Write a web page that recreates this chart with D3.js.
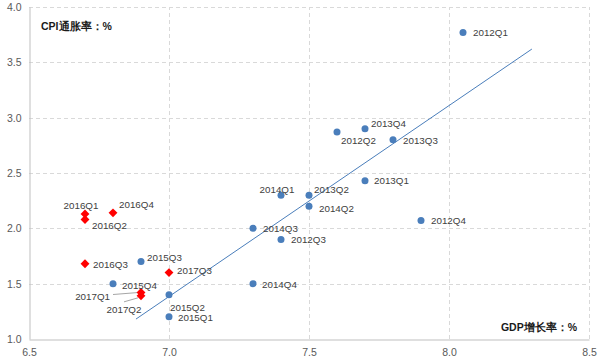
<!DOCTYPE html>
<html><head><meta charset="utf-8">
<script src="https://cdn.jsdelivr.net/npm/d3@7"></script>
<style>body{margin:0;background:#fff;}svg{display:block;font-family:"Liberation Sans",Arial,sans-serif;}</style>
</head><body><svg id="c" width="600" height="360"></svg>
<script>
// Blue series (2012Q1–2015Q4): GDP growth vs CPI inflation
const blueLabels = ["2012Q1","2012Q2","2012Q3","2012Q4","2013Q1","2013Q2","2013Q3","2013Q4","2014Q1","2014Q2","2014Q3","2014Q4","2015Q1","2015Q2","2015Q3","2015Q4"];
const blueGDP = [8.05,7.6,7.4,7.9,7.7,7.5,7.8,7.7,7.4,7.5,7.3,7.3,7.0,7.0,6.9,6.8];
const blueCPI = [3.77,2.87,1.9,2.07,2.43,2.3,2.8,2.9,2.3,2.2,2.0,1.5,1.2,1.4,1.7,1.5];
// Red series (2016Q1–2017Q3)
const redLabels = ["2016Q1","2016Q2","2016Q3","2016Q4","2017Q1","2017Q2","2017Q3"];
const redGDP = [6.7,6.7,6.7,6.8,6.9,6.9,7.0];
const redCPI = [2.13,2.08,1.68,2.14,1.42,1.39,1.6];
// Trendline endpoints
const trendGDP = [6.882,8.296];
const trendCPI = [1.18,3.62];
const xTicks = [6.5,7.0,7.5,8.0,8.5];
const yTicks = [1.0,1.5,2.0,2.5,3.0,3.5,4.0];

const labelPos = {
 "2012Q1":[10,0,"start"],"2012Q2":[4,9,"start"],"2013Q4":[6,-5,"start"],"2013Q3":[10,1,"start"],
 "2013Q1":[9,0,"start"],"2012Q4":[10,0,"start"],"2014Q1":[-4,-6,"middle"],"2013Q2":[5,-6,"start"],
 "2014Q2":[10,2,"start"],"2014Q3":[10,0,"start"],"2012Q3":[10,0,"start"],"2014Q4":[9,1,"start"],
 "2015Q3":[6,-4,"start"],"2015Q4":[9,2,"start"],"2015Q2":[1,13,"start"],"2015Q1":[9,1,"start"],
 "2016Q1":[-4,-8,"middle"],"2016Q2":[7,6,"start"],"2016Q4":[6,-8,"start"],"2016Q3":[8,1,"start"],
 "2017Q3":[8,-2,"start"],"2017Q1":[-31,4,"end"],"2017Q2":[-17,14,"middle"]
};
const leaders = {"2017Q1":[-28,2,-3,0],"2017Q2":[-17,6,-3,2]};

const svg = d3.select("#c");
const x = d3.scaleLinear().domain([6.5,8.5]).range([29,589]);
const y = d3.scaleLinear().domain([1,4]).range([339,7]);

// grid
const g = svg.append("g");
g.selectAll(".hg").data(yTicks.filter(d=>d>1)).join("line")
 .attr("x1",x(6.5)).attr("x2",x(8.5)).attr("y1",d=>Math.round(y(d))+0.5).attr("y2",d=>Math.round(y(d))+0.5)
 .attr("stroke","#d9d9d9").attr("stroke-dasharray","4,3");
g.selectAll(".vg").data(xTicks.filter(d=>d>6.5)).join("line")
 .attr("y1",y(1)).attr("y2",y(4)).attr("x1",d=>Math.round(x(d))+0.5).attr("x2",d=>Math.round(x(d))+0.5)
 .attr("stroke","#d9d9d9").attr("stroke-dasharray","4,3");

// axes
const xAxis = svg.append("g").attr("transform",`translate(0,${Math.round(y(1))+0.5})`)
 .call(d3.axisBottom(x).tickValues(xTicks).tickFormat(d3.format(".1f")).tickSize(0).tickPadding(9));
const yAxis = svg.append("g").attr("transform",`translate(${Math.round(x(6.5))+0.5},0)`)
 .call(d3.axisLeft(y).tickValues(yTicks).tickFormat(d3.format(".1f")).tickSize(0).tickPadding(8));
[xAxis,yAxis].forEach(a=>{
 a.select(".domain").attr("stroke","#bfbfbf");
 a.selectAll("text").attr("fill","#595959").style("font-size","10.5px").style("font-family","'Liberation Sans',Arial,sans-serif");
});

// trendline
svg.append("line").attr("x1",x(trendGDP[0])).attr("y1",y(trendCPI[0])).attr("x2",x(trendGDP[1])).attr("y2",y(trendCPI[1]))
 .attr("stroke","#4a7ebb").attr("stroke-width",1);

const blue = blueLabels.map((l,i)=>({l,gx:blueGDP[i],cy:blueCPI[i]}));
const red = redLabels.map((l,i)=>({l,gx:redGDP[i],cy:redCPI[i]}));

// leader lines
svg.selectAll(".ld").data(red.filter(d=>leaders[d.l])).join("line")
 .attr("x1",d=>x(d.gx)+leaders[d.l][0]).attr("y1",d=>y(d.cy)+leaders[d.l][1])
 .attr("x2",d=>x(d.gx)+leaders[d.l][2]).attr("y2",d=>y(d.cy)+leaders[d.l][3])
 .attr("stroke","#a6a6a6").attr("stroke-width",1);

svg.selectAll(".bp").data(blue).join("circle")
 .attr("cx",d=>x(d.gx)).attr("cy",d=>y(d.cy)).attr("r",3.5).attr("fill","#4a7ebb");
svg.selectAll(".rp").data(red).join("path")
 .attr("d",d3.symbol(d3.symbolDiamond2,50))
 .attr("transform",d=>`translate(${x(d.gx)},${y(d.cy)})`).attr("fill","#ff0000");

svg.selectAll(".lb").data(blue.concat(red)).join("text")
 .attr("x",d=>x(d.gx)+labelPos[d.l][0]).attr("y",d=>y(d.cy)+labelPos[d.l][1])
 .attr("dy","0.35em").attr("text-anchor",d=>labelPos[d.l][2])
 .attr("fill","#404040").style("font-size","9.8px").text(d=>d.l);

svg.append("text").attr("x",41).attr("y",26).attr("dy","0.35em").attr("font-weight","bold")
 .attr("fill","#1a1a1a").style("font-size","10.5px").text("CPI通胀率：%");
svg.append("text").attr("x",577).attr("y",327).attr("dy","0.35em").attr("text-anchor","end").attr("font-weight","bold")
 .attr("fill","#1a1a1a").style("font-size","10.5px").text("GDP增长率：%");
</script></body></html>
